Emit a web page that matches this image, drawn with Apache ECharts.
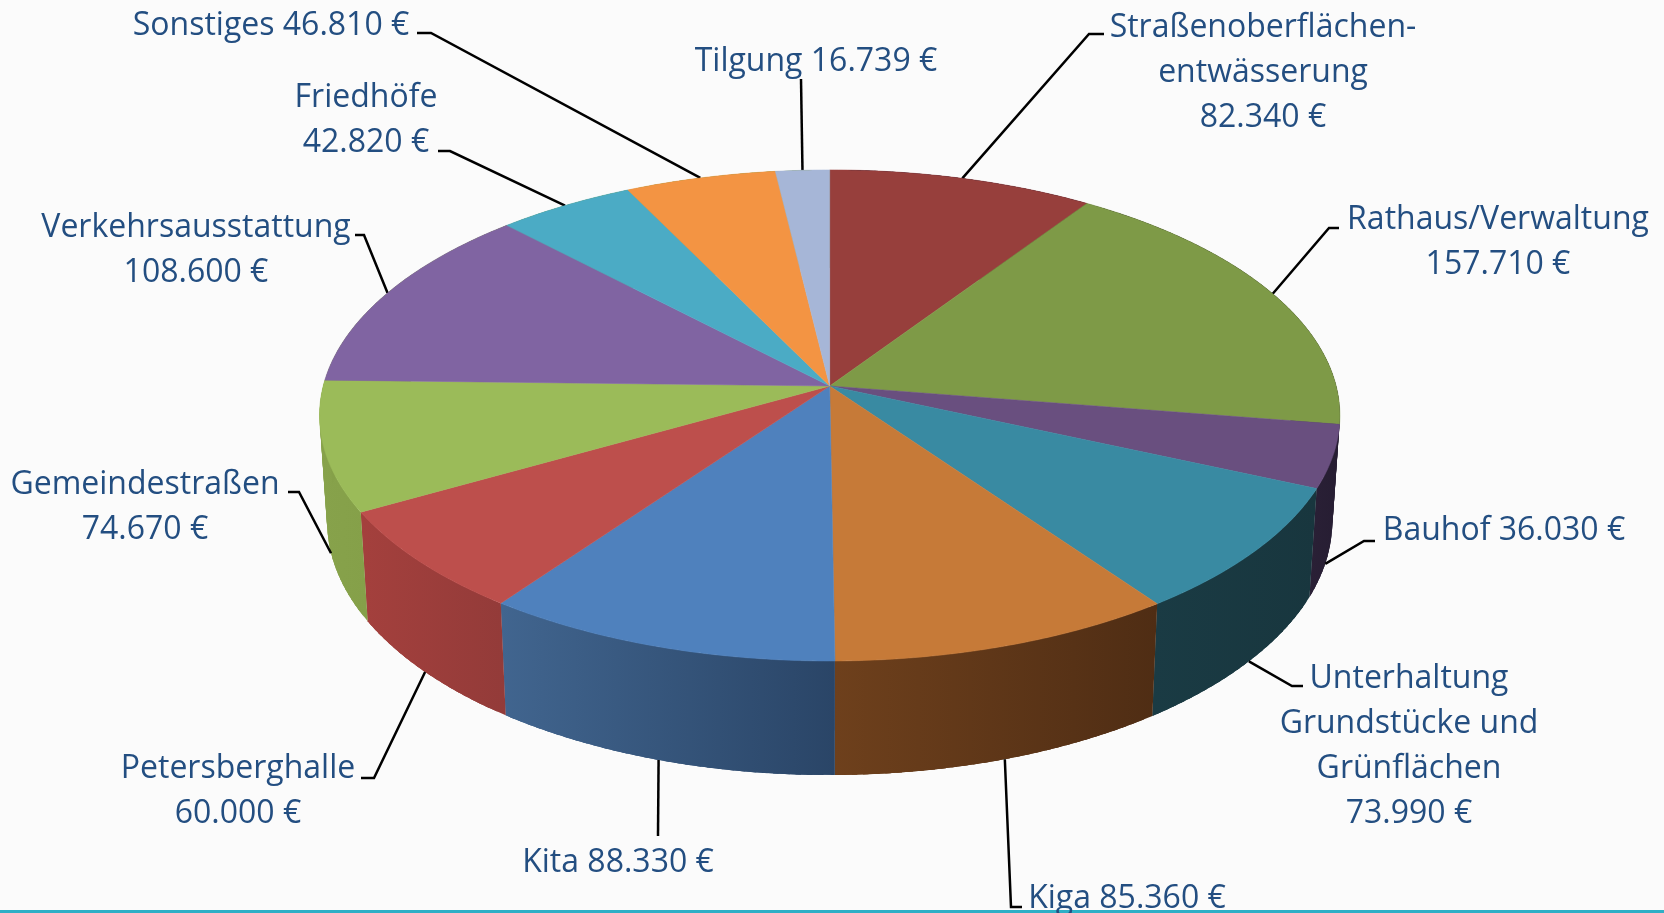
<!DOCTYPE html>
<html>
<head>
<meta charset="utf-8">
<title>Kosten</title>
<script src="https://cdn.jsdelivr.net/npm/echarts@6/dist/echarts.min.js"></script>
<style>
  html, body { margin: 0; padding: 0; background: #fbfbfb; }
  #main { width: 1664px; height: 913px; }
</style>
</head>
<body>
<div id="main"></div>
<script>
// values, clockwise from 12 o'clock
const sliceValues = [82340, 157710, 36030, 73990, 85360, 88330, 60000, 74670, 108600, 42820, 46810, 16739]
const sliceLabels = [
  'Straßenoberflächen-\nentwässerung\n82.340 €',
  'Rathaus/Verwaltung\n157.710 €',
  'Bauhof 36.030 €',
  'Unterhaltung\nGrundstücke und\nGrünflächen\n73.990 €',
  'Kiga 85.360 €',
  'Kita 88.330 €',
  'Petersberghalle\n60.000 €',
  'Gemeindestraßen\n74.670 €',
  'Verkehrsausstattung\n108.600 €',
  'Friedhöfe\n42.820 €',
  'Sonstiges 46.810 €',
  'Tilgung 16.739 €',
]

const topColors = ['#973f3c', '#7e9a47', '#694f7f', '#398aa2', '#c67a38', '#4f81bd', '#bd4f4c', '#9bbb59', '#8064a2', '#4babc5', '#f39443', '#a6b6d7']
// the back slices only ever show as a sliver at the edge, so they take the colour of their neighbour
const sideColors = [
  ['#271e33', '#271e33'], ['#271e33', '#271e33'], ['#2a2036', '#261d32'], ['#1a3b44', '#18363e'],
  ['#6e401c', '#4f2d14'], ['#41658f', '#2a4567'], ['#a4403d', '#933b39'], ['#87a24b', '#85a049'],
  ['#85a049', '#85a049'], ['#85a049', '#85a049'], ['#85a049', '#85a049'], ['#85a049', '#85a049'],
]

// label centre and leader bend/end, same order as the values
const labelPos = [[1263, 73], [1498, 242], [1504, 531], [1409, 746], [1127, 899], [618, 863], [238, 791], [145, 507], [196, 250], [366, 120], [271, 26], [816, 62]]
const leaderBend = [[1089, 34], [1329, 228], [1364, 541], [1292, 686], [1011, 907], [658, 836], [374, 778], [299, 492], [364, 235], [450, 151], [431, 33], [801, 79]]
const leaderEnd = [[1104, 34], [1339, 228], [1375, 541], [1303, 686], [1022, 907], [658, 836], [361, 778], [288, 492], [355, 235], [438, 151], [417, 33], [801, 79]]

const total = sliceValues.reduce((a, b) => a + b, 0)
const startAngles = []
let run = 0
sliceValues.forEach((v) => {
  startAngles.push((run / total) * Math.PI * 2)
  run += v
})

// perspective of the disc, top and bottom rim
const cx = 829.7
const persp = 0.12
const topRim = { y0: 386, a: 242, b: 506.5 }
const lowRim = { y0: 491, a: 250, b: 499 }

function rimPoint(rim, ang) {
  const s = Math.sin(ang)
  const c = Math.cos(ang)
  const d = 1 + persp * c
  return [cx + (rim.b * s) / d, rim.y0 - (rim.a * c) / d]
}

function arc(rim, from, to) {
  const pts = []
  const n = Math.max(2, Math.ceil((to - from) / 0.01))
  for (let i = 0; i <= n; i++) pts.push(rimPoint(rim, from + ((to - from) * i) / n))
  return pts
}

function sliceRange(i) {
  return [startAngles[i], startAngles[i] + (sliceValues[i] / total) * Math.PI * 2]
}

// small overlapping quads: a single band polygon cancels itself out where the rims cross at the silhouette
function renderSide(params) {
  const i = params.dataIndex
  const [from, to] = sliceRange(i)
  const upper = arc(topRim, from, to)
  const lower = arc(lowRim, from, to)
  const xs = upper.concat(lower).map((p) => p[0])
  const fill = {
    type: 'linear', global: true,
    x: Math.min(...xs), y: 0, x2: Math.max(...xs), y2: 0,
    colorStops: [{ offset: 0, color: sideColors[i][0] }, { offset: 1, color: sideColors[i][1] }],
  }
  const last = upper.length - 1
  const children = []
  for (let k = 0; k < last; k += 2) {
    const e = Math.min(k + 5, last)
    children.push({
      type: 'polygon',
      shape: { points: [upper[k], upper[e], lower[e], lower[k]] },
      style: { fill },
    })
  }
  return { type: 'group', children }
}

function renderTop(params) {
  const i = params.dataIndex
  const [from, to] = sliceRange(i)
  const points = [[cx, topRim.y0]].concat(arc(topRim, from, to))
  return { type: 'polygon', shape: { points }, style: { fill: topColors[i], stroke: topColors[i], lineWidth: 0.5 } }
}

function renderLabel(params) {
  const i = params.dataIndex
  const [from, to] = sliceRange(i)
  const mid = (from + to) / 2
  const start = rimPoint(Math.cos(mid) >= 0 ? topRim : lowRim, mid)
  return {
    type: 'group',
    children: [
      {
        type: 'polyline',
        shape: { points: [start, leaderBend[i], leaderEnd[i]] },
        style: { fill: null, stroke: '#000000', lineWidth: 2.5 },
      },
      {
        type: 'text',
        style: {
          text: sliceLabels[i],
          x: labelPos[i][0],
          y: labelPos[i][1],
          align: 'center',
          verticalAlign: 'middle',
          fill: '#234e81',
          font: '32px "Open Sans"',
          lineHeight: 45,
        },
      },
    ],
  }
}

const seriesData = sliceValues.map((v, i) => ({ value: v, name: sliceLabels[i] }))

const chart = echarts.init(document.getElementById('main'))
chart.setOption({
  animation: false,
  backgroundColor: '#fbfbfb',
  graphic: [{ type: 'rect', left: 0, bottom: 0, shape: { width: 1664, height: 3 }, style: { fill: '#2eafc6' } }],
  series: [
    { type: 'custom', coordinateSystem: 'none', z: 1, silent: true, data: seriesData, renderItem: renderSide },
    { type: 'custom', coordinateSystem: 'none', z: 2, silent: true, data: seriesData, renderItem: renderLabel },
    { type: 'custom', coordinateSystem: 'none', z: 3, silent: true, data: seriesData, renderItem: renderTop },
  ],
})
</script>
</body>
</html>
